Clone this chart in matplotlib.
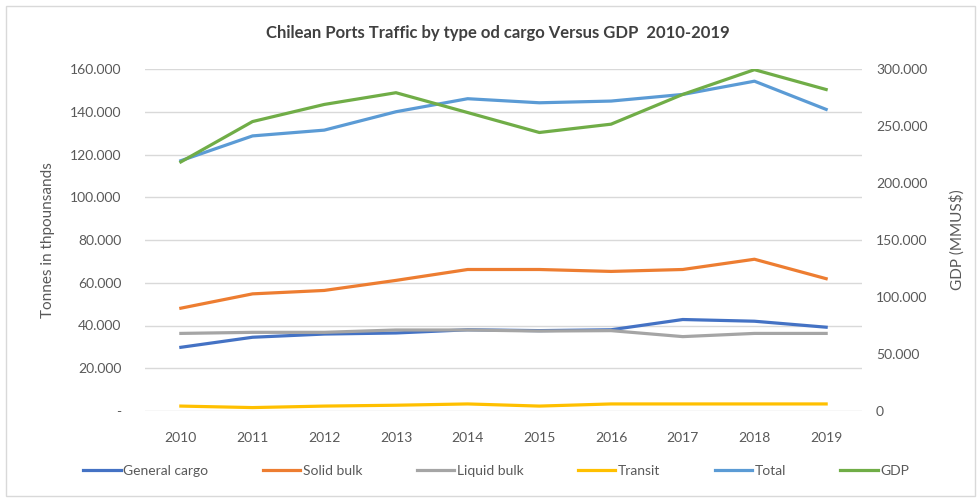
import matplotlib.pyplot as plt
import matplotlib.ticker as mticker
import numpy as np

plt.rcParams['font.family'] = ['Lato', 'DejaVu Sans']

years = ['2010', '2011', '2012', '2013', '2014', '2015', '2016', '2017', '2018', '2019']
general_cargo = [29.8, 34.5, 36.0, 36.5, 38.0, 37.6, 38.0, 42.8, 42.0, 39.2]
solid_bulk = [48.1, 54.8, 56.4, 61.1, 66.2, 66.2, 65.3, 66.2, 71.0, 61.9]
liquid_bulk = [36.3, 36.8, 36.8, 37.9, 37.9, 37.4, 37.6, 34.8, 36.3, 36.3]
transit = [2.3, 1.6, 2.3, 2.7, 3.3, 2.3, 3.3, 3.3, 3.3, 3.3]
total = [117.1, 128.7, 131.4, 140.0, 146.1, 144.2, 145.0, 148.1, 154.3, 141.1]
gdp = [218.5, 253.9, 268.9, 279.2, 261.8, 244.3, 251.6, 277.7, 299.4, 282.0]

# values in thousands of tonnes (x1000 for axis labels)
scale = 1000

fig = plt.figure(figsize=(9.77, 5.0), dpi=100)
ax = fig.add_axes([145/977, 1 - 411/500, (862-145)/977, (411-69)/500])
ax2 = ax.twinx()

x = np.arange(len(years))
lw = 2.3
l1, = ax.plot(x, np.array(general_cargo)*scale, color='#4472C4', lw=lw, label='General cargo')
l2, = ax.plot(x, np.array(solid_bulk)*scale, color='#ED7D31', lw=lw, label='Solid bulk')
l3, = ax.plot(x, np.array(liquid_bulk)*scale, color='#A5A5A5', lw=lw, label='Liquid bulk')
l4, = ax.plot(x, np.array(transit)*scale, color='#FFC000', lw=lw, label='Transit')
l5, = ax.plot(x, np.array(total)*scale, color='#5B9BD5', lw=lw, label='Total')
l6, = ax2.plot(x, np.array(gdp)*scale, color='#70AD47', lw=lw, label='GDP')

ax.set_xlim(-0.5, len(years) - 0.5)
ax.set_ylim(0, 160000)
ax2.set_ylim(0, 300000)
ax.set_yticks(np.arange(0, 160001, 20000))
ax2.set_yticks(np.arange(0, 300001, 50000))

def left_fmt(v, pos):
    if v == 0:
        return '-'
    return f'{int(v):,}'.replace(',', '.')

def right_fmt(v, pos):
    return f'{int(v):,}'.replace(',', '.')

ax.yaxis.set_major_formatter(mticker.FuncFormatter(left_fmt))
ax2.yaxis.set_major_formatter(mticker.FuncFormatter(right_fmt))
ax.set_xticks(x)
ax.set_xticklabels(years)

txt = '#595959'
for a in (ax, ax2):
    for s in a.spines.values():
        s.set_visible(False)
    a.tick_params(length=0, colors=txt, labelsize=10)
ax.tick_params(axis='y', pad=17)
ax2.tick_params(axis='y', pad=10)
ax.tick_params(axis='x', pad=15)
ax.grid(axis='y', color='#D9D9D9', lw=1)
ax.set_axisbelow(True)

ax.set_ylabel('Tonnes in thpounsands', color=txt, fontsize=11)
ax.yaxis.set_label_coords(-0.125, 0.5)
ax2.set_ylabel('GDP (MMUS\\$)', color=txt, fontsize=11)
ax2.yaxis.set_label_coords(1.122, 0.5)

fig.text(0.51, 1 - 33/500, 'Chilean Ports Traffic by type od cargo Versus GDP  2010-2019',
         ha='center', va='center', fontsize=12, fontweight='bold', color='#404040')

fig.legend(handles=[l1, l2, l3, l4, l5, l6], loc='center', ncol=6,
           bbox_to_anchor=(0.508, 1 - 471/500), frameon=False, fontsize=10,
           labelcolor=txt, handlelength=2.7, handletextpad=0.2, columnspacing=3.9)

# chart border
fig.patches.append(plt.Rectangle((6/977, 4/500), 1 - 8/977, 1 - 10/500, transform=fig.transFigure,
                                 fill=False, edgecolor='#D9D9D9', lw=1))

fig.savefig('out.png', dpi=100)
